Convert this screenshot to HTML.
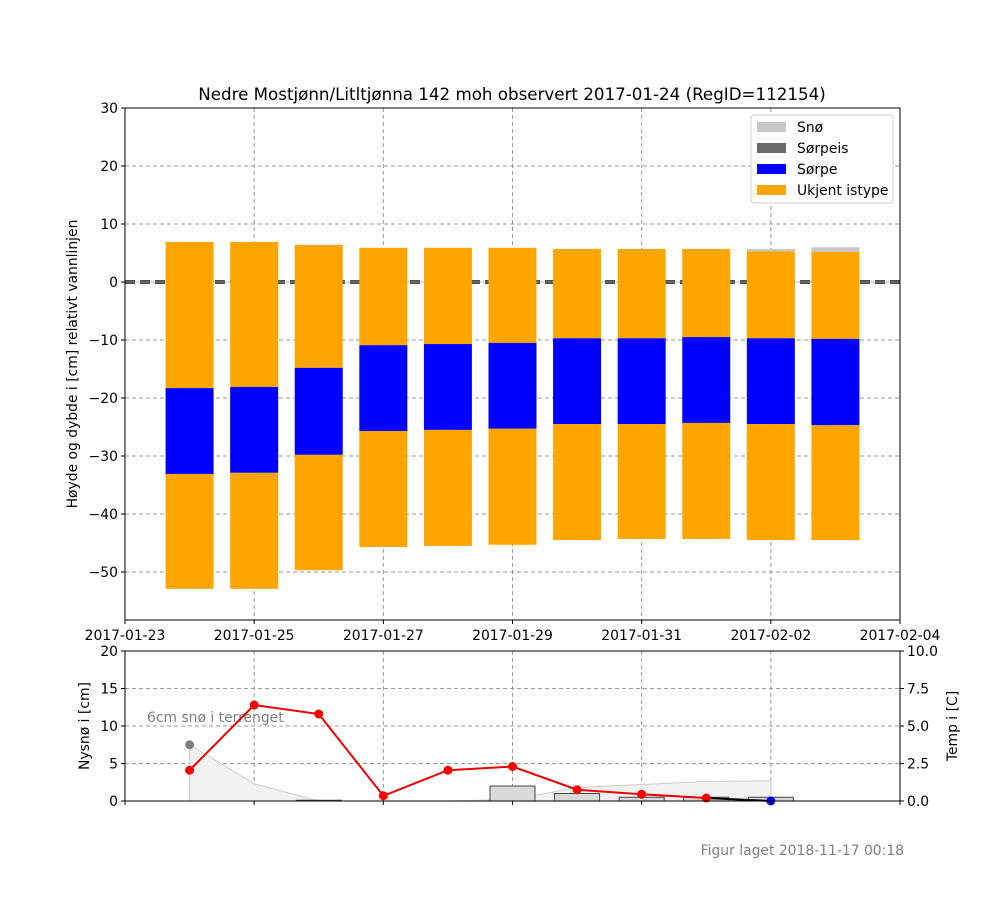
<!DOCTYPE html>
<html><head><meta charset="utf-8"><style>
body{margin:0;background:#fff;}
svg{font-family:"DejaVu Sans","Liberation Sans",sans-serif;}
</style></head><body>
<svg id="c" width="1000" height="900" viewBox="0 0 1000 900" xmlns="http://www.w3.org/2000/svg"></svg>
<script>
const days = ["2017-01-24","2017-01-25","2017-01-26","2017-01-27","2017-01-28","2017-01-29","2017-01-30","2017-01-31","2017-02-01","2017-02-02","2017-02-03"];
const snowTop =   [6.9,6.9,6.4,5.9,5.9,5.9,5.7,5.7,5.7,5.7,6.0];
const iceTop =    [6.9,6.9,6.4,5.9,5.9,5.9,5.7,5.7,5.7,5.3,5.2];
const slushTop =  [-18.3,-18.1,-14.8,-10.9,-10.7,-10.5,-9.7,-9.7,-9.5,-9.7,-9.8];
const slushBot =  [-33.1,-32.9,-29.8,-25.7,-25.5,-25.3,-24.5,-24.5,-24.3,-24.5,-24.7];
const iceBot =    [-52.9,-52.9,-49.7,-45.7,-45.5,-45.3,-44.5,-44.3,-44.3,-44.5,-44.5];
const xTicks = ["2017-01-23","2017-01-25","2017-01-27","2017-01-29","2017-01-31","2017-02-02","2017-02-04"];
const yTicks = [30,20,10,0,-10,-20,-30,-40,-50];
const tempDays = ["2017-01-24","2017-01-25","2017-01-26","2017-01-27","2017-01-28","2017-01-29","2017-01-30","2017-01-31","2017-02-01"];
const tempVals = [2.05,6.4,5.8,0.35,2.05,2.3,0.75,0.45,0.2];
const newSnowDays = ["2017-01-26","2017-01-29","2017-01-30","2017-01-31","2017-02-01","2017-02-02"];
const newSnowVals = [0.1,2.0,1.0,0.5,0.5,0.5];
const terrDays = ["2017-01-24","2017-01-25","2017-01-26","2017-01-27","2017-01-28","2017-01-29","2017-01-30","2017-01-31","2017-02-01","2017-02-02"];
const terrVals = [7.5,2.3,0,0,0,0.2,1.8,2.2,2.6,2.7];
const nyTicks=[0,5,10,15,20];
const tTicks=["0.0","2.5","5.0","7.5","10.0"];

const S=document.getElementById('c');const NS="http://www.w3.org/2000/svg";
function el(t,a,p){const e=document.createElementNS(NS,t);for(const k in a)e.setAttribute(k,a[k]);(p||S).appendChild(e);return e;}
const X0=125,X1=900,d0=Date.UTC(2017,0,23);
const FS=13.9;
function dn(s){const[y,m,d]=s.split('-').map(Number);return (Date.UTC(y,m-1,d)-d0)/864e5;}
function x(s){return X0+dn(s)*(X1-X0)/12;}
const yT=v=>282-v*5.8;
const yN=v=>801-v*7.5;
const yTe=v=>801-v*15;

let t=el('text',{x:512,y:100,'text-anchor':'middle','font-size':16.7});t.textContent="Nedre Mostjønn/Litltjønna 142 moh observert 2017-01-24 (RegID=112154)";

const grid=el('g',{stroke:'#999','stroke-dasharray':'4,3','stroke-width':1});

xTicks.forEach(s=>{el('line',{x1:x(s),x2:x(s),y1:108,y2:620},grid);el('line',{x1:x(s),x2:x(s),y1:651,y2:801},grid);});
yTicks.forEach(v=>el('line',{x1:X0,x2:X1,y1:yT(v),y2:yT(v)},grid));
nyTicks.forEach(v=>el('line',{x1:X0,x2:X1,y1:yN(v),y2:yN(v)},grid));
el('line',{x1:X0,x2:X1,y1:282,y2:282,stroke:'#111','stroke-width':3.5,'stroke-dasharray':'10,5'});
el('line',{x1:X0,x2:X1,y1:282,y2:282,stroke:'#bbb','stroke-width':1});
const bars=el('g',{});
days.forEach((d,i)=>{const cx=x(d),w=48,l=cx-w/2;
 const segs=[[snowTop[i],iceTop[i],'#c8c8c8','snow'],[iceTop[i],slushTop[i],'#ffa500','ice-upper'],[slushTop[i],slushBot[i],'#0000ff','slush'],[slushBot[i],iceBot[i],'#ffa500','ice-lower']];
 segs.forEach(sg=>{if(sg[0]>sg[1]){const r=el('rect',{x:l,y:yT(sg[0]),width:w,height:yT(sg[1])-yT(sg[0]),fill:sg[2]},bars);
 }});});
el('rect',{x:X0,y:108,width:X1-X0,height:512,fill:'none',stroke:'#000'});
yTicks.forEach(v=>{el('line',{x1:X0-4,x2:X0,y1:yT(v),y2:yT(v),stroke:'#000'});const tt=el('text',{x:X0-7,y:yT(v)+5,'text-anchor':'end','font-size':FS});tt.textContent=v==0?'0':(v<0?'−'+(-v):v);});
xTicks.forEach(s=>{el('line',{x1:x(s),x2:x(s),y1:620,y2:624,stroke:'#000'});const tt=el('text',{x:x(s),y:640,'text-anchor':'middle','font-size':FS});tt.textContent=s;});
t=el('text',{x:77,y:364,'text-anchor':'middle','font-size':FS,transform:'rotate(-90 77 364)'});t.textContent="Høyde og dybde i [cm] relativt vannlinjen";

const lg=el('g',{});
el('rect',{x:751,y:115,width:142,height:88,fill:'#fff',stroke:'#ccc',rx:3},lg);
[["Snø","#c8c8c8"],["Sørpeis","#696969"],["Sørpe","#0000ff"],["Ukjent istype","#ffa500"]].forEach((e,i)=>{
 const g=el('g',{},lg);
 el('rect',{x:757,y:122+i*21,width:29,height:10,fill:e[1]},g);const tt=el('text',{x:797,y:132+i*21,'font-size':FS},g);tt.textContent=e[0];});

const terr=el('polygon',{points:[[x(terrDays[0]),yN(0)]].concat(terrDays.map((d,i)=>[x(d),yN(terrVals[i])])).concat([[x(terrDays[terrDays.length-1]),yN(0)]]).map(p=>p.join(',')).join(' '),fill:'#f2f2f2',stroke:'#ccc'});

const tc=el('circle',{cx:x(terrDays[0]),cy:yN(terrVals[0]),r:4.5,fill:'#808080'});
t=el('text',{x:147,y:722,'font-size':FS,fill:'#808080'});t.textContent="6cm snø i terrenget";
newSnowDays.forEach((d,i)=>{const r=el('rect',{x:x(d)-22.5,y:yN(newSnowVals[i]),width:45,height:yN(0)-yN(newSnowVals[i]),fill:'#d9d9d9',stroke:'#444'});
 });
el('line',{x1:x("2017-02-01"),y1:yTe(0.2),x2:x("2017-02-02"),y2:yTe(0),stroke:'#000','stroke-width':2});
const pl=el('polyline',{points:tempDays.map((d,i)=>x(d)+','+yTe(tempVals[i])).join(' '),fill:'none',stroke:'#e00','stroke-width':2});

tempDays.forEach((d,i)=>{const c=el('circle',{cx:x(d),cy:yTe(tempVals[i]),r:4.5,fill:'#f00'});});
el('circle',{cx:x("2017-02-02"),cy:yTe(0),r:4.5,fill:'#00f'});
el('rect',{x:X0,y:651,width:X1-X0,height:150,fill:'none',stroke:'#000'});
nyTicks.forEach(v=>{el('line',{x1:X0-4,x2:X0,y1:yN(v),y2:yN(v),stroke:'#000'});const tt=el('text',{x:X0-7,y:yN(v)+5,'text-anchor':'end','font-size':FS});tt.textContent=v;});
tTicks.forEach((v,i)=>{const yy=yTe(i*2.5);el('line',{x1:X1,x2:X1+4,y1:yy,y2:yy,stroke:'#000'});const tt=el('text',{x:X1+7,y:yy+5,'font-size':FS});tt.textContent=v;});
xTicks.forEach(s=>el('line',{x1:x(s),x2:x(s),y1:801,y2:805,stroke:'#000'}));
t=el('text',{x:89,y:726,'text-anchor':'middle','font-size':FS,transform:'rotate(-90 89 726)'});t.textContent="Nysnø i [cm]";

t=el('text',{x:957,y:726,'text-anchor':'middle','font-size':FS,transform:'rotate(-90 957 726)'});t.textContent="Temp i [C]";

t=el('text',{x:904,y:855,'text-anchor':'end','font-size':FS,fill:'#808080'});t.textContent="Figur laget 2018-11-17 00:18";

</script>
</body></html>
